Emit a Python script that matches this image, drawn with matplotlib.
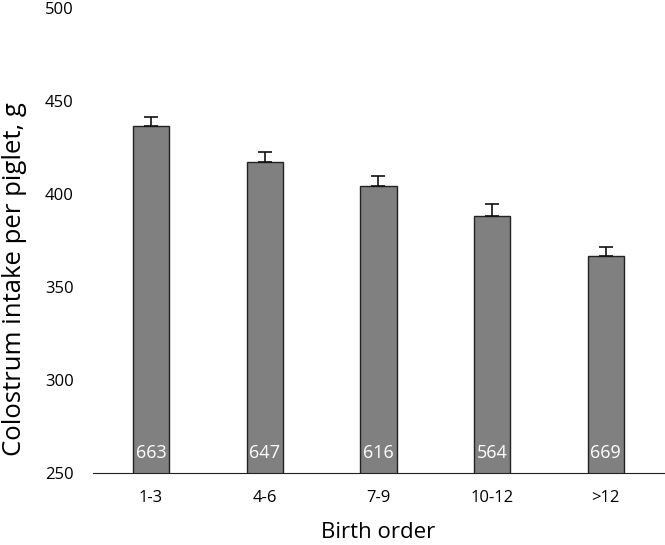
import matplotlib
matplotlib.use("Agg")
import matplotlib.pyplot as plt
import numpy as np

# values
categories = ["1-3", "4-6", "7-9", "10-12", ">12"]
intake = [436.5, 417.5, 404.5, 388.5, 366.5]
sem = [5.0, 5.0, 5.0, 6.0, 5.0]
counts = ["663", "647", "616", "564", "669"]

plt.rcParams['font.family'] = ['Open Sans', 'DejaVu Sans']

fig = plt.figure(figsize=(6.65, 5.45), dpi=100)
ax = fig.add_axes([0.14, 0.132, 0.858, 0.853])

x = np.arange(len(categories))
# only the upper half of the error bar shows above the bar
ax.bar(x, intake, width=0.32, color="#808080", edgecolor="#222222", linewidth=1.0,
       yerr=[np.zeros(len(sem)), sem],
       error_kw=dict(ecolor="#111111", elinewidth=1.2, capsize=5, capthick=1.2))

for xi, c in zip(x, counts):
    ax.text(xi, 261, c, ha="center", va="center", color="white", fontsize=13)

ax.set_ylim(250, 500)
ax.set_xlim(-0.51, 4.51)
ax.set_yticks(np.arange(250, 501, 50))
ax.set_xticks(x)
ax.set_xticklabels(categories)
ax.tick_params(axis="y", length=0, labelsize=12, pad=14)
ax.tick_params(axis="x", length=0, labelsize=12, pad=12)

for s in ["left", "right", "top"]:
    ax.spines[s].set_visible(False)
ax.spines["bottom"].set_color("#222222")

ax.set_ylabel("Colostrum intake per piglet, g", fontsize=18.5)
ax.yaxis.set_label_coords(-0.115, 0.417)
ax.set_xlabel("Birth order", fontsize=16, labelpad=12)

fig.savefig("out.png", dpi=100)
